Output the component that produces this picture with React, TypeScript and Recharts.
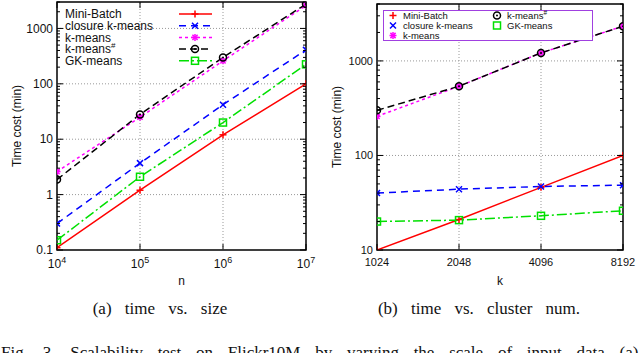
import React from "react";
import {
  LineChart,
  Line,
  XAxis,
  YAxis,
  ReferenceLine,
  ReferenceArea,
  Legend,
} from "recharts";

// (a) time vs. size
const sizeN = [1e4, 1e5, 1e6, 1e7];
const sizeMiniBatch = [0.11, 1.2, 12, 100];
const sizeClosure = [0.3, 3.7, 42, 410];
const sizeKmeans = [2.6, 25, 260, 2600];
const sizeKmeansSharp = [1.87, 28, 300, 2750];
const sizeGK = [0.15, 2.1, 20, 225];
const sizeYTicks = [0.1, 1, 10, 100, 1000];

// (b) time vs. cluster num.
const clusterK = [1024, 2048, 4096, 8192];
const clusterMiniBatch = [10, 21, 46, 100];
const clusterClosure = [40, 44, 47, 48.5];
const clusterKmeans = [259, 540, 1215, 2330];
const clusterKmeansSharp = [300, 540, 1215, 2330];
const clusterGK = [20, 20.7, 23, 26];
const clusterYTicks = [10, 100, 1000];

const series = [
  { key: "miniBatch", name: "Mini-Batch", color: "#ff0000", dash: undefined, marker: "plus" },
  { key: "closure", name: "closure k-means", color: "#0000ff", dash: "7 5", marker: "cross" },
  { key: "kmeans", name: "k-means", color: "#ff00ff", dash: "3 3", marker: "star" },
  { key: "kmeansSharp", name: "k-means", sup: "#", color: "#000000", dash: "7 4", marker: "circle" },
  { key: "gk", name: "GK-means", color: "#00e000", dash: "10 3 2 3", marker: "square" },
];

const sizeRows = sizeN.map((n, i) => ({
  x: n,
  miniBatch: sizeMiniBatch[i],
  closure: sizeClosure[i],
  kmeans: sizeKmeans[i],
  kmeansSharp: sizeKmeansSharp[i],
  gk: sizeGK[i],
}));

const clusterRows = clusterK.map((k, i) => ({
  x: k,
  miniBatch: clusterMiniBatch[i],
  closure: clusterClosure[i],
  kmeans: clusterKmeans[i],
  kmeansSharp: clusterKmeansSharp[i],
  gk: clusterGK[i],
}));

function minorTicks(major: number[], max: number) {
  const out: number[] = [];
  major.forEach((m) => {
    for (let f = 2; f <= 9; f++) {
      const v = +(m * f).toPrecision(3);
      if (v <= max) out.push(v);
    }
  });
  return out;
}

function Marker({ kind, cx, cy, color }: any) {
  const s = 3.5;
  const sw = 1.5;
  if (kind === "plus")
    return (
      <g stroke={color} strokeWidth={sw}>
        <line x1={cx - s} y1={cy} x2={cx + s} y2={cy} />
        <line x1={cx} y1={cy - s} x2={cx} y2={cy + s} />
      </g>
    );
  if (kind === "cross")
    return (
      <g stroke={color} strokeWidth={sw}>
        <line x1={cx - 3} y1={cy - 3} x2={cx + 3} y2={cy + 3} />
        <line x1={cx - 3} y1={cy + 3} x2={cx + 3} y2={cy - 3} />
      </g>
    );
  if (kind === "star")
    return (
      <g stroke={color} strokeWidth={sw}>
        <line x1={cx - s} y1={cy} x2={cx + s} y2={cy} />
        <line x1={cx} y1={cy - s} x2={cx} y2={cy + s} />
        <line x1={cx - 2.6} y1={cy - 2.6} x2={cx + 2.6} y2={cy + 2.6} />
        <line x1={cx - 2.6} y1={cy + 2.6} x2={cx + 2.6} y2={cy - 2.6} />
      </g>
    );
  if (kind === "circle")
    return (
      <g>
        <circle cx={cx} cy={cy} r={3.5} fill="none" stroke={color} strokeWidth={sw} />
        <circle cx={cx} cy={cy} r={1} fill={color} />
      </g>
    );
  return (
    <rect x={cx - s} y={cy - s} width={2 * s} height={2 * s} fill="none" stroke={color} strokeWidth={sw} />
  );
}

function YTick({ x, y, payload, major, plotW, fontSize }: any) {
  const v = payload.value;
  const isMajor = major.includes(v);
  const len = isMajor ? 6 : 3;
  return (
    <g>
      <line x1={x} y1={y} x2={x + len} y2={y} stroke="#000" />
      <line x1={x + plotW} y1={y} x2={x + plotW - len} y2={y} stroke="#000" />
      {isMajor && (
        <text x={x - 4} y={y} dy="0.35em" textAnchor="end" fontSize={fontSize} fill="#111">
          {String(v)}
        </text>
      )}
    </g>
  );
}

function XTick({ x, y, payload, plotH, fontSize, power }: any) {
  const v = payload.value;
  return (
    <g>
      <line x1={x} y1={y} x2={x} y2={y - 6} stroke="#000" />
      <line x1={x} y1={y - plotH} x2={x} y2={y - plotH + 6} stroke="#000" />
      {power ? (
        <text x={x} y={y + 18} textAnchor="middle" fontSize={fontSize} fill="#111">
          10
          <tspan dy={-5} fontSize={fontSize - 3}>
            {Math.round(Math.log10(v))}
          </tspan>
        </text>
      ) : (
        <text x={x} y={y + 16} textAnchor="middle" fontSize={fontSize} fill="#111">
          {String(v)}
        </text>
      )}
    </g>
  );
}

function SizeLegend() {
  return (
    <svg width={320} height={70} style={{ display: "block" }}>
      {series.map((s, i) => {
        const y = 14 + i * 11.7;
        return (
          <g key={s.key}>
            <text x={65} y={y} dy="0.35em" fontSize={12} fill="#111">
              {s.name}
              {s.sup && (
                <tspan dy={-5} fontSize={8}>
                  {s.sup}
                </tspan>
              )}
            </text>
            <line x1={179} y1={y} x2={212} y2={y} stroke={s.color} strokeWidth={1.5} strokeDasharray={s.dash} />
            <Marker kind={s.marker} cx={195} cy={y} color={s.color} />
          </g>
        );
      })}
    </svg>
  );
}

function ClusterLegend() {
  return (
    <svg width={320} height={45} style={{ display: "block" }}>
      <rect x={63.5} y={10.5} width={209} height={30} fill="#fff" stroke="#a040e0" strokeWidth={1} />
      {series.map((s, i) => {
        const col = i < 3 ? 0 : 1;
        const row = i < 3 ? i : i - 3;
        const mx = col === 0 ? 73 : 177;
        const y = 15.5 + row * 10;
        return (
          <g key={s.key}>
            <Marker kind={s.marker} cx={mx} cy={y} color={s.color} />
            <text x={mx + 10} y={y} dy="0.35em" fontSize={9.5} fill="#111">
              {s.name}
              {s.sup && (
                <tspan dy={-4} fontSize={6.5}>
                  {s.sup}
                </tspan>
              )}
            </text>
          </g>
        );
      })}
    </svg>
  );
}

function Panel({ rows, xTicks, yTicks, xDomain, yDomain, plot, fontSize, power, xLabel, legend }: any) {
  const W = 320;
  const H = 300;
  const plotW = plot.right - plot.left;
  const plotH = plot.bottom - plot.top;
  const allY = [...yTicks, ...minorTicks(yTicks, yDomain[1])].sort((a, b) => a - b);
  return (
    <LineChart
      width={W}
      height={H}
      data={rows}
      margin={{ top: plot.top, right: W - plot.right, bottom: 0, left: 0 }}
    >
      <XAxis
        dataKey="x"
        type="number"
        scale="log"
        domain={xDomain}
        ticks={xTicks}
        interval={0}
        height={H - plot.bottom}
        tickSize={0}
        tickMargin={0}
        axisLine={false}
        tickLine={false}
        allowDataOverflow
        tick={(p: any) => <XTick {...p} plotH={plotH} fontSize={fontSize} power={power} />}
        label={{ value: xLabel, position: "insideBottom", offset: 15, fontSize: 12, fill: "#111" }}
      />
      <YAxis
        type="number"
        scale="log"
        domain={yDomain}
        ticks={allY}
        interval={0}
        width={plot.left}
        tickSize={0}
        tickMargin={0}
        axisLine={false}
        tickLine={false}
        allowDataOverflow
        tick={(p: any) => <YTick {...p} major={yTicks} plotW={plotW} fontSize={fontSize} />}
        label={{
          value: "Time cost (min)",
          angle: -90,
          position: "insideLeft",
          offset: 17,
          fontSize: 12,
          fill: "#111",
          style: { textAnchor: "middle" },
        }}
      />
      {xTicks.slice(1, -1).map((v: number) => (
        <ReferenceLine key={"gx" + v} x={v} stroke="#999" strokeDasharray="1 2" />
      ))}
      {yTicks.slice(1).map((v: number) => (
        <ReferenceLine key={"gy" + v} y={v} stroke="#999" strokeDasharray="1 2" />
      ))}
      <Legend
        layout="vertical"
        align="center"
        verticalAlign="middle"
        wrapperStyle={{ left: 0, top: 0, width: 320 }}
        content={legend}
      />
      {series.map((s) => (
        <Line
          key={s.key}
          dataKey={s.key}
          name={s.name}
          stroke={s.color}
          strokeWidth={1.5}
          strokeDasharray={s.dash}
          isAnimationActive={false}
          dot={(p: any) => <Marker key={s.key + p.index} kind={s.marker} cx={p.cx} cy={p.cy} color={s.color} />}
          activeDot={false}
        />
      ))}
      <ReferenceArea
        x1={xDomain[0]}
        x2={xDomain[1]}
        y1={yDomain[0]}
        y2={yDomain[1]}
        fill="none"
        fillOpacity={0}
        stroke="#000"
        strokeWidth={1.5}
      />
    </LineChart>
  );
}

const serif = "'Liberation Serif', 'Times New Roman', serif";

export default function App() {
  return (
    <div
      style={{
        position: "absolute",
        left: 0,
        top: 0,
        width: 640,
        height: 353,
        overflow: "hidden",
        background: "#fff",
        fontFamily: "'Liberation Sans', Arial, sans-serif",
      }}
    >
      <div style={{ position: "absolute", left: 0, top: 0 }}>
        <Panel
          rows={sizeRows}
          xTicks={sizeN}
          yTicks={sizeYTicks}
          xDomain={[1e4, 1e7]}
          yDomain={[0.1, 3000]}
          plot={{ left: 57, right: 306, top: 2, bottom: 250 }}
          fontSize={12}
          power
          xLabel="n"
          legend={() => <SizeLegend />}
        />
      </div>
      <div style={{ position: "absolute", left: 320, top: 0 }}>
        <Panel
          rows={clusterRows}
          xTicks={clusterK}
          yTicks={clusterYTicks}
          xDomain={[1024, 8192]}
          yDomain={[10, 4000]}
          plot={{ left: 57, right: 303, top: 4, bottom: 250 }}
          fontSize={11}
          power={false}
          xLabel="k"
          legend={() => <ClusterLegend />}
        />
      </div>
      <svg width={640} height={353} style={{ position: "absolute", left: 0, top: 0, pointerEvents: "none" }}>
        <g fontFamily={serif} fontSize={17} fill="#111" wordSpacing={9}>
          <text x={160} y={314} textAnchor="middle">
            (a) time vs. size
          </text>
          <text x={479} y={314} textAnchor="middle">
            (b) time vs. cluster num.
          </text>
        </g>
        <text x={1} y={358} fontFamily={serif} fontSize={17} fill="#111" wordSpacing={10.5}>
          Fig. 3.  Scalability test on Flickr10M by varying the scale of input data (a)
        </text>
      </svg>
    </div>
  );
}
